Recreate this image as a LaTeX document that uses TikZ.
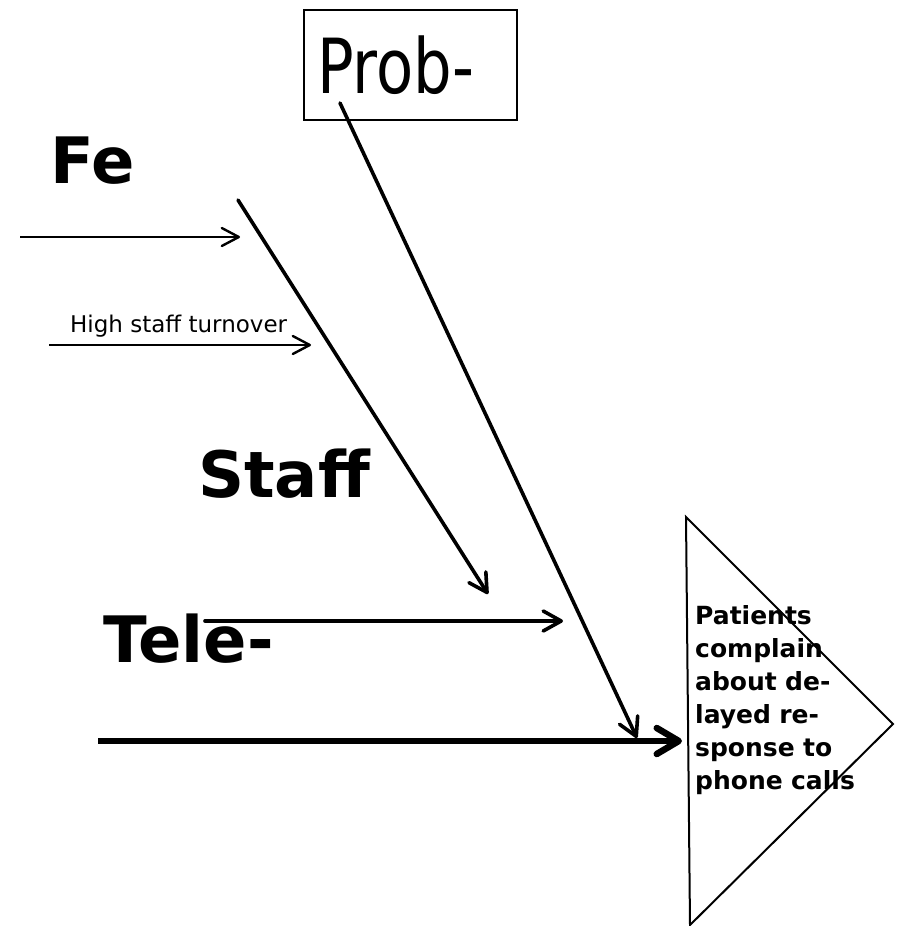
\documentclass[tikz,border=0pt]{standalone}
\usepackage{fontspec}
\setmainfont{DejaVu Sans}
\newfontfamily\probfont[FakeStretch=0.8]{DejaVu Sans}
\usetikzlibrary{arrows.meta}
\tikzset{
  bone/.style   ={-{Straight Barb[length=18pt,width=20pt,round]},
                  line width=3.6pt, line cap=round},
  rib/.style    ={-{Straight Barb[length=17pt,width=18pt,round]},
                  line width=2.4pt},
  spine/.style  ={-{Straight Barb[length=22pt,width=26pt,round]},
                  line width=6.5pt},
  cat/.style    ={font=\fontsize{64}{70}\selectfont\bfseries,
                  inner sep=0pt, anchor=base west},
  cause/.style  ={font=\fontsize{23}{26}\selectfont,
                  inner sep=0pt, anchor=base west},
  probbox/.style={draw, line width=2pt, minimum width=213pt,
                  minimum height=110pt, inner sep=0pt,
                  font=\probfont\fontsize{76}{80}\selectfont},
  headbox/.style={line width=2pt},
  effect/.style ={font=\fontsize{25}{33}\selectfont\bfseries,
                  text width=165pt, align=left, inner sep=0pt,
                  anchor=north west},
}
\begin{document}
\begin{tikzpicture}[x=1pt, y=-1pt]
\useasboundingbox (0,0) rectangle (899,926);
% problem box and its bone
\node[probbox] (prob) at (410.5,65) {\hspace*{-30pt}Prob-};
\coordinate (probfoot) at (340,103);
\coordinate (probtip)  at (637,738);
% fish head
\coordinate (headtop) at (686,517);
\coordinate (headbot) at (690,925);
\coordinate (headtip) at (893,724);
\draw[headbox] (headtop) -- (headtip) -- (headbot) -- cycle;
\node[effect] (eff) at (695,605)
  {Patients\\complain\\about de-\\layed re-\\sponse to\\phone calls};
% categories
\node[cat] (fe)    at (50,183)  {Fe};
\node[cat] (staff) at (198,497) {Staff};
\node[cat] (tele)  at (103,662) {Tele-};
\node[cause] (turn) at (70,332) {High staff turnover};
% bones
\coordinate (feS)    at (20,237);
\coordinate (feE)    at (240,237);
\coordinate (turnS)  at (49,345);
\coordinate (turnE)  at (311,345);
\coordinate (stbS)   at (238,200);
\coordinate (stbE)   at (488,594);
\coordinate (stS)    at (205,621);
\coordinate (stE)    at (563,621);
\coordinate (spS)    at (98,741);
\coordinate (spE)    at (682,741);
\draw[rib]   (feS)   -- (feE);
\draw[rib]   (turnS) -- (turnE);
\draw[bone]  (stbS)  -- (stbE);
\draw[bone]  (stS)   -- (stE);
\draw[bone]  (probfoot) -- (probtip);
\draw[spine] (spS)   -- (spE);
\end{tikzpicture}
\end{document}
